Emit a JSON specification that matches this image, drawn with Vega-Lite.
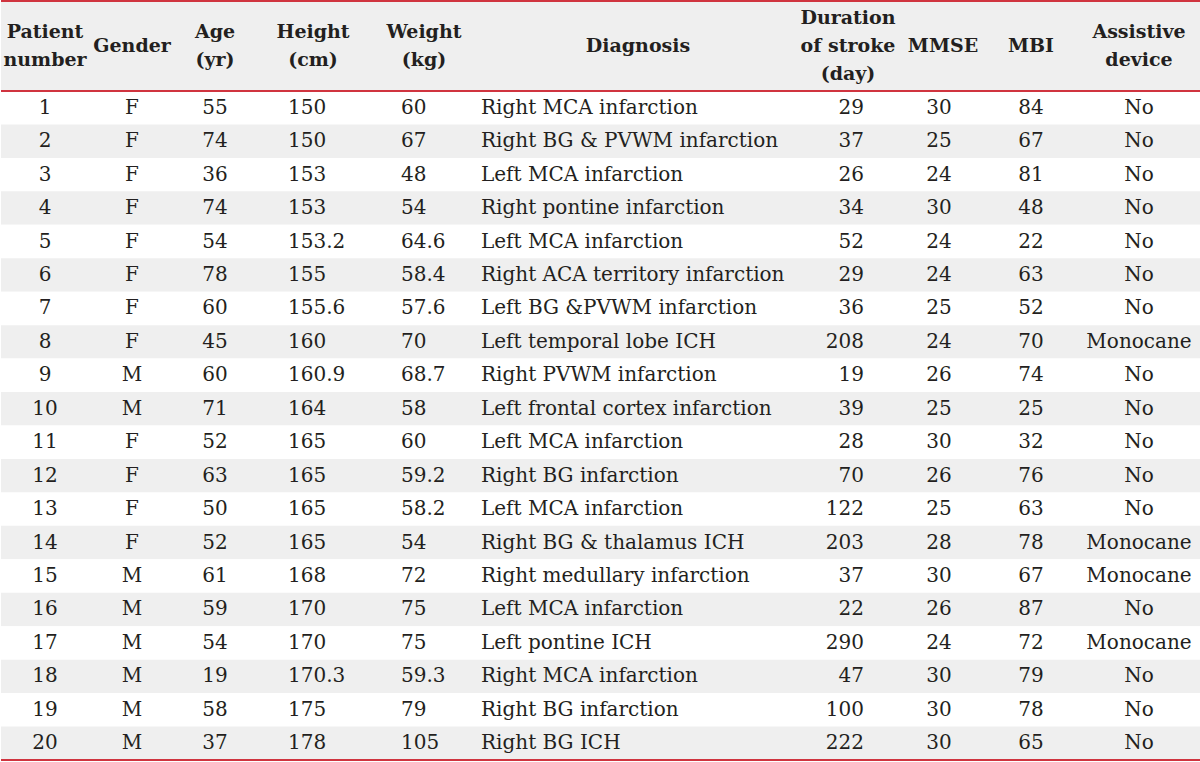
{
  "$schema": "https://vega.github.io/schema/vega-lite/v6.json",
  "padding": 0,
  "background": "#ffffff",
  "spacing": 0,
  "datasets": {
    "patients": [
      {"id": 1, "gender": "F", "age": 55, "height": 150, "weight": 60, "diagnosis": "Right MCA infarction", "duration": 29, "mmse": 30, "mbi": 84, "device": "No"},
      {"id": 2, "gender": "F", "age": 74, "height": 150, "weight": 67, "diagnosis": "Right BG & PVWM infarction", "duration": 37, "mmse": 25, "mbi": 67, "device": "No"},
      {"id": 3, "gender": "F", "age": 36, "height": 153, "weight": 48, "diagnosis": "Left MCA infarction", "duration": 26, "mmse": 24, "mbi": 81, "device": "No"},
      {"id": 4, "gender": "F", "age": 74, "height": 153, "weight": 54, "diagnosis": "Right pontine infarction", "duration": 34, "mmse": 30, "mbi": 48, "device": "No"},
      {"id": 5, "gender": "F", "age": 54, "height": 153.2, "weight": 64.6, "diagnosis": "Left MCA infarction", "duration": 52, "mmse": 24, "mbi": 22, "device": "No"},
      {"id": 6, "gender": "F", "age": 78, "height": 155, "weight": 58.4, "diagnosis": "Right ACA territory infarction", "duration": 29, "mmse": 24, "mbi": 63, "device": "No"},
      {"id": 7, "gender": "F", "age": 60, "height": 155.6, "weight": 57.6, "diagnosis": "Left BG &PVWM infarction", "duration": 36, "mmse": 25, "mbi": 52, "device": "No"},
      {"id": 8, "gender": "F", "age": 45, "height": 160, "weight": 70, "diagnosis": "Left temporal lobe ICH", "duration": 208, "mmse": 24, "mbi": 70, "device": "Monocane"},
      {"id": 9, "gender": "M", "age": 60, "height": 160.9, "weight": 68.7, "diagnosis": "Right PVWM infarction", "duration": 19, "mmse": 26, "mbi": 74, "device": "No"},
      {"id": 10, "gender": "M", "age": 71, "height": 164, "weight": 58, "diagnosis": "Left frontal cortex infarction", "duration": 39, "mmse": 25, "mbi": 25, "device": "No"},
      {"id": 11, "gender": "F", "age": 52, "height": 165, "weight": 60, "diagnosis": "Left MCA infarction", "duration": 28, "mmse": 30, "mbi": 32, "device": "No"},
      {"id": 12, "gender": "F", "age": 63, "height": 165, "weight": 59.2, "diagnosis": "Right BG infarction", "duration": 70, "mmse": 26, "mbi": 76, "device": "No"},
      {"id": 13, "gender": "F", "age": 50, "height": 165, "weight": 58.2, "diagnosis": "Left MCA infarction", "duration": 122, "mmse": 25, "mbi": 63, "device": "No"},
      {"id": 14, "gender": "F", "age": 52, "height": 165, "weight": 54, "diagnosis": "Right BG & thalamus ICH", "duration": 203, "mmse": 28, "mbi": 78, "device": "Monocane"},
      {"id": 15, "gender": "M", "age": 61, "height": 168, "weight": 72, "diagnosis": "Right medullary infarction", "duration": 37, "mmse": 30, "mbi": 67, "device": "Monocane"},
      {"id": 16, "gender": "M", "age": 59, "height": 170, "weight": 75, "diagnosis": "Left MCA infarction", "duration": 22, "mmse": 26, "mbi": 87, "device": "No"},
      {"id": 17, "gender": "M", "age": 54, "height": 170, "weight": 75, "diagnosis": "Left pontine ICH", "duration": 290, "mmse": 24, "mbi": 72, "device": "Monocane"},
      {"id": 18, "gender": "M", "age": 19, "height": 170.3, "weight": 59.3, "diagnosis": "Right MCA infarction", "duration": 47, "mmse": 30, "mbi": 79, "device": "No"},
      {"id": 19, "gender": "M", "age": 58, "height": 175, "weight": 79, "diagnosis": "Right BG infarction", "duration": 100, "mmse": 30, "mbi": 78, "device": "No"},
      {"id": 20, "gender": "M", "age": 37, "height": 178, "weight": 105, "diagnosis": "Right BG ICH", "duration": 222, "mmse": 30, "mbi": 65, "device": "No"}
    ],
    "headers": [
      {"col": "id", "label": "Patient\nnumber"},
      {"col": "gender", "label": "Gender"},
      {"col": "age", "label": "Age\n(yr)"},
      {"col": "height", "label": "Height\n(cm)"},
      {"col": "weight", "label": "Weight\n(kg)"},
      {"col": "diagnosis", "label": "Diagnosis"},
      {"col": "duration", "label": "Duration\nof stroke\n(day)"},
      {"col": "mmse", "label": "MMSE"},
      {"col": "mbi", "label": "MBI"},
      {"col": "device", "label": "Assistive\ndevice"}
    ]
  },
  "vconcat": [
    {
      "spacing": 0,
      "bounds": "flush",
      "hconcat": [
        {"data": {"name": "headers"}, "transform": [{"filter": "datum.col == 'id'"}], "width": 88, "height": 90,
         "encoding": {"y": {"field": "col", "type": "nominal", "axis": null, "scale": {"paddingInner": 0, "paddingOuter": 0}}},
         "layer": [
          {"mark": {"type": "rect", "color": "#efefef"}, "encoding": {}},
          {"mark": {"type": "text", "fontWeight": "bold", "fontSize": 19, "lineHeight": 28, "lineBreak": "\n", "dy": -13}, "encoding": {"text": {"field": "label", "type": "nominal"}}},
          {"mark": {"type": "rule", "color": "#d0343f", "strokeWidth": 2, "yOffset": 1}, "encoding": {"y": {"field": "col", "type": "nominal", "bandPosition": 0, "axis": null}}}
         ]},
        {"data": {"name": "headers"}, "transform": [{"filter": "datum.col == 'gender'"}], "width": 86, "height": 90,
         "encoding": {"y": {"field": "col", "type": "nominal", "axis": null, "scale": {"paddingInner": 0, "paddingOuter": 0}}},
         "layer": [
          {"mark": {"type": "rect", "color": "#efefef"}, "encoding": {}},
          {"mark": {"type": "text", "fontWeight": "bold", "fontSize": 19, "lineHeight": 28, "lineBreak": "\n", "dy": 1}, "encoding": {"text": {"field": "label", "type": "nominal"}}},
          {"mark": {"type": "rule", "color": "#d0343f", "strokeWidth": 2, "yOffset": 1}, "encoding": {"y": {"field": "col", "type": "nominal", "bandPosition": 0, "axis": null}}}
         ]},
        {"data": {"name": "headers"}, "transform": [{"filter": "datum.col == 'age'"}], "width": 80, "height": 90,
         "encoding": {"y": {"field": "col", "type": "nominal", "axis": null, "scale": {"paddingInner": 0, "paddingOuter": 0}}},
         "layer": [
          {"mark": {"type": "rect", "color": "#efefef"}, "encoding": {}},
          {"mark": {"type": "text", "fontWeight": "bold", "fontSize": 19, "lineHeight": 28, "lineBreak": "\n", "dy": -13}, "encoding": {"text": {"field": "label", "type": "nominal"}}},
          {"mark": {"type": "rule", "color": "#d0343f", "strokeWidth": 2, "yOffset": 1}, "encoding": {"y": {"field": "col", "type": "nominal", "bandPosition": 0, "axis": null}}}
         ]},
        {"data": {"name": "headers"}, "transform": [{"filter": "datum.col == 'height'"}], "width": 116, "height": 90,
         "encoding": {"y": {"field": "col", "type": "nominal", "axis": null, "scale": {"paddingInner": 0, "paddingOuter": 0}}},
         "layer": [
          {"mark": {"type": "rect", "color": "#efefef"}, "encoding": {}},
          {"mark": {"type": "text", "fontWeight": "bold", "fontSize": 19, "lineHeight": 28, "lineBreak": "\n", "dy": -13}, "encoding": {"text": {"field": "label", "type": "nominal"}}},
          {"mark": {"type": "rule", "color": "#d0343f", "strokeWidth": 2, "yOffset": 1}, "encoding": {"y": {"field": "col", "type": "nominal", "bandPosition": 0, "axis": null}}}
         ]},
        {"data": {"name": "headers"}, "transform": [{"filter": "datum.col == 'weight'"}], "width": 106, "height": 90,
         "encoding": {"y": {"field": "col", "type": "nominal", "axis": null, "scale": {"paddingInner": 0, "paddingOuter": 0}}},
         "layer": [
          {"mark": {"type": "rect", "color": "#efefef"}, "encoding": {}},
          {"mark": {"type": "text", "fontWeight": "bold", "fontSize": 19, "lineHeight": 28, "lineBreak": "\n", "dy": -13}, "encoding": {"text": {"field": "label", "type": "nominal"}}},
          {"mark": {"type": "rule", "color": "#d0343f", "strokeWidth": 2, "yOffset": 1}, "encoding": {"y": {"field": "col", "type": "nominal", "bandPosition": 0, "axis": null}}}
         ]},
        {"data": {"name": "headers"}, "transform": [{"filter": "datum.col == 'diagnosis'"}], "width": 322, "height": 90,
         "encoding": {"y": {"field": "col", "type": "nominal", "axis": null, "scale": {"paddingInner": 0, "paddingOuter": 0}}},
         "layer": [
          {"mark": {"type": "rect", "color": "#efefef"}, "encoding": {}},
          {"mark": {"type": "text", "fontWeight": "bold", "fontSize": 19, "lineHeight": 28, "lineBreak": "\n", "dy": 1}, "encoding": {"text": {"field": "label", "type": "nominal"}}},
          {"mark": {"type": "rule", "color": "#d0343f", "strokeWidth": 2, "yOffset": 1}, "encoding": {"y": {"field": "col", "type": "nominal", "bandPosition": 0, "axis": null}}}
         ]},
        {"data": {"name": "headers"}, "transform": [{"filter": "datum.col == 'duration'"}], "width": 98, "height": 90,
         "encoding": {"y": {"field": "col", "type": "nominal", "axis": null, "scale": {"paddingInner": 0, "paddingOuter": 0}}},
         "layer": [
          {"mark": {"type": "rect", "color": "#efefef"}, "encoding": {}},
          {"mark": {"type": "text", "fontWeight": "bold", "fontSize": 19, "lineHeight": 28, "lineBreak": "\n", "dy": -27}, "encoding": {"text": {"field": "label", "type": "nominal"}}},
          {"mark": {"type": "rule", "color": "#d0343f", "strokeWidth": 2, "yOffset": 1}, "encoding": {"y": {"field": "col", "type": "nominal", "bandPosition": 0, "axis": null}}}
         ]},
        {"data": {"name": "headers"}, "transform": [{"filter": "datum.col == 'mmse'"}], "width": 88, "height": 90,
         "encoding": {"y": {"field": "col", "type": "nominal", "axis": null, "scale": {"paddingInner": 0, "paddingOuter": 0}}},
         "layer": [
          {"mark": {"type": "rect", "color": "#efefef"}, "encoding": {}},
          {"mark": {"type": "text", "fontWeight": "bold", "fontSize": 19, "lineHeight": 28, "lineBreak": "\n", "dy": 1, "dx": 2}, "encoding": {"text": {"field": "label", "type": "nominal"}}},
          {"mark": {"type": "rule", "color": "#d0343f", "strokeWidth": 2, "yOffset": 1}, "encoding": {"y": {"field": "col", "type": "nominal", "bandPosition": 0, "axis": null}}}
         ]},
        {"data": {"name": "headers"}, "transform": [{"filter": "datum.col == 'mbi'"}], "width": 92, "height": 90,
         "encoding": {"y": {"field": "col", "type": "nominal", "axis": null, "scale": {"paddingInner": 0, "paddingOuter": 0}}},
         "layer": [
          {"mark": {"type": "rect", "color": "#efefef"}, "encoding": {}},
          {"mark": {"type": "text", "fontWeight": "bold", "fontSize": 19, "lineHeight": 28, "lineBreak": "\n", "dy": 1}, "encoding": {"text": {"field": "label", "type": "nominal"}}},
          {"mark": {"type": "rule", "color": "#d0343f", "strokeWidth": 2, "yOffset": 1}, "encoding": {"y": {"field": "col", "type": "nominal", "bandPosition": 0, "axis": null}}}
         ]},
        {"data": {"name": "headers"}, "transform": [{"filter": "datum.col == 'device'"}], "width": 124, "height": 90,
         "encoding": {"y": {"field": "col", "type": "nominal", "axis": null, "scale": {"paddingInner": 0, "paddingOuter": 0}}},
         "layer": [
          {"mark": {"type": "rect", "color": "#efefef"}, "encoding": {}},
          {"mark": {"type": "text", "fontWeight": "bold", "fontSize": 19, "lineHeight": 28, "lineBreak": "\n", "dy": -13}, "encoding": {"text": {"field": "label", "type": "nominal"}}},
          {"mark": {"type": "rule", "color": "#d0343f", "strokeWidth": 2, "yOffset": 1}, "encoding": {"y": {"field": "col", "type": "nominal", "bandPosition": 0, "axis": null}}}
         ]}
      ]
    },
    {
      "spacing": 0,
      "bounds": "flush",
      "data": {"name": "patients"},
      "hconcat": [
        {"width": 88, "height": 669,
         "encoding": {"y": {"field": "id", "type": "ordinal", "axis": null, "scale": {"paddingInner": 0, "paddingOuter": 0}}},
         "layer": [
          {"mark": {"type": "rect"}, "encoding": {"fill": {"condition": {"test": "datum.id % 2 == 0", "value": "#efefef"}, "value": "#ffffff"}}},
          {"mark": {"type": "text", "fontSize": 20}, "encoding": {"text": {"field": "id", "type": "nominal"}}},
          {"transform": [{"filter": "datum.id == 1"}], "mark": {"type": "rule", "color": "#d0343f", "strokeWidth": 2}, "encoding": {"y": {"field": "id", "type": "ordinal", "bandPosition": 0, "axis": null}}},
          {"transform": [{"filter": "datum.id == 20"}], "mark": {"type": "rule", "color": "#d0343f", "strokeWidth": 2}, "encoding": {"y": {"field": "id", "type": "ordinal", "bandPosition": 1, "axis": null}}}
         ]},
        {"width": 86, "height": 669,
         "encoding": {"y": {"field": "id", "type": "ordinal", "axis": null, "scale": {"paddingInner": 0, "paddingOuter": 0}}},
         "layer": [
          {"mark": {"type": "rect"}, "encoding": {"fill": {"condition": {"test": "datum.id % 2 == 0", "value": "#efefef"}, "value": "#ffffff"}}},
          {"mark": {"type": "text", "fontSize": 20}, "encoding": {"text": {"field": "gender", "type": "nominal"}}},
          {"transform": [{"filter": "datum.id == 1"}], "mark": {"type": "rule", "color": "#d0343f", "strokeWidth": 2}, "encoding": {"y": {"field": "id", "type": "ordinal", "bandPosition": 0, "axis": null}}},
          {"transform": [{"filter": "datum.id == 20"}], "mark": {"type": "rule", "color": "#d0343f", "strokeWidth": 2}, "encoding": {"y": {"field": "id", "type": "ordinal", "bandPosition": 1, "axis": null}}}
         ]},
        {"width": 80, "height": 669,
         "encoding": {"y": {"field": "id", "type": "ordinal", "axis": null, "scale": {"paddingInner": 0, "paddingOuter": 0}}},
         "layer": [
          {"mark": {"type": "rect"}, "encoding": {"fill": {"condition": {"test": "datum.id % 2 == 0", "value": "#efefef"}, "value": "#ffffff"}}},
          {"mark": {"type": "text", "fontSize": 20}, "encoding": {"text": {"field": "age", "type": "nominal"}}},
          {"transform": [{"filter": "datum.id == 1"}], "mark": {"type": "rule", "color": "#d0343f", "strokeWidth": 2}, "encoding": {"y": {"field": "id", "type": "ordinal", "bandPosition": 0, "axis": null}}},
          {"transform": [{"filter": "datum.id == 20"}], "mark": {"type": "rule", "color": "#d0343f", "strokeWidth": 2}, "encoding": {"y": {"field": "id", "type": "ordinal", "bandPosition": 1, "axis": null}}}
         ]},
        {"width": 116, "height": 669,
         "encoding": {"y": {"field": "id", "type": "ordinal", "axis": null, "scale": {"paddingInner": 0, "paddingOuter": 0}}},
         "layer": [
          {"mark": {"type": "rect"}, "encoding": {"fill": {"condition": {"test": "datum.id % 2 == 0", "value": "#efefef"}, "value": "#ffffff"}}},
          {"mark": {"type": "text", "fontSize": 20, "align": "left", "dx": -25}, "encoding": {"text": {"field": "height", "type": "nominal"}}},
          {"transform": [{"filter": "datum.id == 1"}], "mark": {"type": "rule", "color": "#d0343f", "strokeWidth": 2}, "encoding": {"y": {"field": "id", "type": "ordinal", "bandPosition": 0, "axis": null}}},
          {"transform": [{"filter": "datum.id == 20"}], "mark": {"type": "rule", "color": "#d0343f", "strokeWidth": 2}, "encoding": {"y": {"field": "id", "type": "ordinal", "bandPosition": 1, "axis": null}}}
         ]},
        {"width": 106, "height": 669,
         "encoding": {"y": {"field": "id", "type": "ordinal", "axis": null, "scale": {"paddingInner": 0, "paddingOuter": 0}}},
         "layer": [
          {"mark": {"type": "rect"}, "encoding": {"fill": {"condition": {"test": "datum.id % 2 == 0", "value": "#efefef"}, "value": "#ffffff"}}},
          {"mark": {"type": "text", "fontSize": 20, "align": "left", "dx": -23}, "encoding": {"text": {"field": "weight", "type": "nominal"}}},
          {"transform": [{"filter": "datum.id == 1"}], "mark": {"type": "rule", "color": "#d0343f", "strokeWidth": 2}, "encoding": {"y": {"field": "id", "type": "ordinal", "bandPosition": 0, "axis": null}}},
          {"transform": [{"filter": "datum.id == 20"}], "mark": {"type": "rule", "color": "#d0343f", "strokeWidth": 2}, "encoding": {"y": {"field": "id", "type": "ordinal", "bandPosition": 1, "axis": null}}}
         ]},
        {"width": 322, "height": 669,
         "encoding": {"y": {"field": "id", "type": "ordinal", "axis": null, "scale": {"paddingInner": 0, "paddingOuter": 0}}},
         "layer": [
          {"mark": {"type": "rect"}, "encoding": {"fill": {"condition": {"test": "datum.id % 2 == 0", "value": "#efefef"}, "value": "#ffffff"}}},
          {"mark": {"type": "text", "fontSize": 20, "align": "left", "dx": -157}, "encoding": {"text": {"field": "diagnosis", "type": "nominal"}}},
          {"transform": [{"filter": "datum.id == 1"}], "mark": {"type": "rule", "color": "#d0343f", "strokeWidth": 2}, "encoding": {"y": {"field": "id", "type": "ordinal", "bandPosition": 0, "axis": null}}},
          {"transform": [{"filter": "datum.id == 20"}], "mark": {"type": "rule", "color": "#d0343f", "strokeWidth": 2}, "encoding": {"y": {"field": "id", "type": "ordinal", "bandPosition": 1, "axis": null}}}
         ]},
        {"width": 98, "height": 669,
         "encoding": {"y": {"field": "id", "type": "ordinal", "axis": null, "scale": {"paddingInner": 0, "paddingOuter": 0}}},
         "layer": [
          {"mark": {"type": "rect"}, "encoding": {"fill": {"condition": {"test": "datum.id % 2 == 0", "value": "#efefef"}, "value": "#ffffff"}}},
          {"mark": {"type": "text", "fontSize": 20, "align": "right", "dx": 16}, "encoding": {"text": {"field": "duration", "type": "nominal"}}},
          {"transform": [{"filter": "datum.id == 1"}], "mark": {"type": "rule", "color": "#d0343f", "strokeWidth": 2}, "encoding": {"y": {"field": "id", "type": "ordinal", "bandPosition": 0, "axis": null}}},
          {"transform": [{"filter": "datum.id == 20"}], "mark": {"type": "rule", "color": "#d0343f", "strokeWidth": 2}, "encoding": {"y": {"field": "id", "type": "ordinal", "bandPosition": 1, "axis": null}}}
         ]},
        {"width": 88, "height": 669,
         "encoding": {"y": {"field": "id", "type": "ordinal", "axis": null, "scale": {"paddingInner": 0, "paddingOuter": 0}}},
         "layer": [
          {"mark": {"type": "rect"}, "encoding": {"fill": {"condition": {"test": "datum.id % 2 == 0", "value": "#efefef"}, "value": "#ffffff"}}},
          {"mark": {"type": "text", "fontSize": 20, "dx": -2}, "encoding": {"text": {"field": "mmse", "type": "nominal"}}},
          {"transform": [{"filter": "datum.id == 1"}], "mark": {"type": "rule", "color": "#d0343f", "strokeWidth": 2}, "encoding": {"y": {"field": "id", "type": "ordinal", "bandPosition": 0, "axis": null}}},
          {"transform": [{"filter": "datum.id == 20"}], "mark": {"type": "rule", "color": "#d0343f", "strokeWidth": 2}, "encoding": {"y": {"field": "id", "type": "ordinal", "bandPosition": 1, "axis": null}}}
         ]},
        {"width": 92, "height": 669,
         "encoding": {"y": {"field": "id", "type": "ordinal", "axis": null, "scale": {"paddingInner": 0, "paddingOuter": 0}}},
         "layer": [
          {"mark": {"type": "rect"}, "encoding": {"fill": {"condition": {"test": "datum.id % 2 == 0", "value": "#efefef"}, "value": "#ffffff"}}},
          {"mark": {"type": "text", "fontSize": 20}, "encoding": {"text": {"field": "mbi", "type": "nominal"}}},
          {"transform": [{"filter": "datum.id == 1"}], "mark": {"type": "rule", "color": "#d0343f", "strokeWidth": 2}, "encoding": {"y": {"field": "id", "type": "ordinal", "bandPosition": 0, "axis": null}}},
          {"transform": [{"filter": "datum.id == 20"}], "mark": {"type": "rule", "color": "#d0343f", "strokeWidth": 2}, "encoding": {"y": {"field": "id", "type": "ordinal", "bandPosition": 1, "axis": null}}}
         ]},
        {"width": 124, "height": 669,
         "encoding": {"y": {"field": "id", "type": "ordinal", "axis": null, "scale": {"paddingInner": 0, "paddingOuter": 0}}},
         "layer": [
          {"mark": {"type": "rect"}, "encoding": {"fill": {"condition": {"test": "datum.id % 2 == 0", "value": "#efefef"}, "value": "#ffffff"}}},
          {"mark": {"type": "text", "fontSize": 20}, "encoding": {"text": {"field": "device", "type": "nominal"}}},
          {"transform": [{"filter": "datum.id == 1"}], "mark": {"type": "rule", "color": "#d0343f", "strokeWidth": 2}, "encoding": {"y": {"field": "id", "type": "ordinal", "bandPosition": 0, "axis": null}}},
          {"transform": [{"filter": "datum.id == 20"}], "mark": {"type": "rule", "color": "#d0343f", "strokeWidth": 2}, "encoding": {"y": {"field": "id", "type": "ordinal", "bandPosition": 1, "axis": null}}}
         ]}
      ]
    }
  ],
  "config": {
    "view": {"stroke": null},
    "font": "DejaVu Serif",
    "text": {"color": "#231f20", "baseline": "middle"}
  }
}
